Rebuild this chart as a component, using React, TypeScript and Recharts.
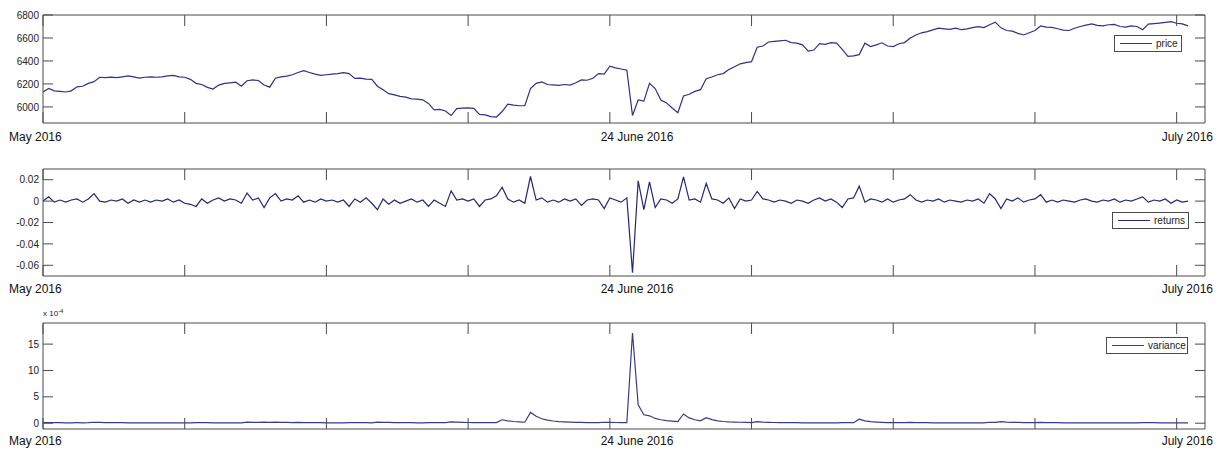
import React from 'react'
import { LineChart, Line, XAxis, YAxis, Legend } from 'recharts'

const FONT = "'Liberation Sans', Arial, sans-serif"
const AXIS = '#4a4a4a'

// x positions: one sample every 4 units, axis runs 0..820 with ticks every 100
const X_STEP = 4
const xTicks = [0, 100, 200, 300, 400, 500, 600, 700, 800]

const price = [
  6130, 6160, 6140, 6135, 6130, 6140, 6175, 6180, 6205, 6220,
  6258, 6255, 6260, 6255, 6262, 6270, 6262, 6250, 6258, 6262,
  6258, 6262, 6270, 6275, 6262, 6258, 6240, 6205, 6195, 6170,
  6155, 6190, 6205, 6210, 6215, 6180, 6228, 6235, 6230, 6190,
  6172, 6250, 6262, 6268, 6280, 6300, 6316, 6300, 6285, 6275,
  6280, 6285, 6290, 6298, 6290, 6248, 6250, 6242, 6240, 6180,
  6150, 6115, 6105, 6092, 6085, 6070, 6068, 6062, 6030, 5975,
  5978, 5965, 5925, 5985, 5990, 5992, 5988, 5935, 5930, 5915,
  5912, 5960, 6025, 6015, 6010, 6010, 6160, 6205, 6218, 6195,
  6192, 6188, 6195, 6190, 6210, 6235, 6232, 6250, 6290, 6285,
  6355, 6340, 6330, 6320, 5925, 6060, 6050, 6205, 6160, 6060,
  6035, 5990, 5950, 6095, 6110, 6135, 6150, 6245, 6260, 6280,
  6290, 6325, 6350, 6375, 6385, 6394, 6520, 6530, 6565, 6570,
  6575, 6580, 6560, 6555, 6540, 6485, 6495, 6550, 6545, 6560,
  6555, 6500, 6440, 6445, 6455, 6555, 6525, 6540, 6558, 6530,
  6525, 6550, 6560, 6600, 6626, 6645, 6655, 6670, 6685, 6680,
  6675, 6685, 6672, 6680, 6690, 6698, 6690, 6715, 6738, 6688,
  6665, 6660, 6640, 6626, 6645, 6665, 6705, 6695, 6692, 6680,
  6668, 6665, 6685, 6700, 6712, 6722, 6710, 6705, 6715, 6718,
  6700, 6695, 6705, 6700, 6672, 6720, 6725, 6730, 6735, 6742,
  6728, 6722, 6705,
]

const returns = [
  0.000, 0.004, -0.001, 0.001, -0.001, 0.001, 0.002, -0.001, 0.002, 0.007,
  0.000, -0.001, 0.001, 0.000, 0.002, -0.002, 0.001, -0.001, 0.001, -0.001,
  0.001, 0.000, 0.002, -0.001, 0.001, -0.002, -0.003, -0.005, 0.002, -0.002,
  0.001, 0.003, 0.000, 0.002, 0.001, -0.002, 0.0075, 0.001, 0.003, -0.006,
  0.003, 0.007, 0.000, 0.002, 0.001, 0.005, -0.001, 0.001, -0.001, 0.002,
  0.000, 0.001, -0.001, 0.001, -0.005, 0.002, -0.001, 0.003, -0.002, -0.008,
  0.002, -0.003, 0.001, -0.002, 0.000, 0.002, -0.001, 0.001, -0.005, 0.001,
  -0.002, -0.005, 0.0096, 0.001, 0.002, 0.000, 0.002, -0.005, 0.001, 0.002,
  0.005, 0.013, 0.002, -0.001, 0.001, -0.002, 0.023, 0.001, 0.003, -0.001,
  0.001, -0.001, 0.002, 0.000, 0.002, -0.004, 0.001, 0.002, 0.001, -0.007,
  0.003, 0.001, -0.001, 0.003, -0.067, 0.019, -0.008, 0.018, -0.006, 0.002,
  0.001, -0.002, 0.002, 0.0226, 0.001, 0.002, -0.001, 0.0165, 0.002, 0.001,
  -0.002, 0.003, -0.007, 0.002, 0.000, 0.001, 0.009, 0.002, 0.001, -0.001,
  0.001, 0.000, -0.002, 0.001, 0.000, -0.002, 0.001, 0.003, 0.000, 0.002,
  -0.001, -0.006, 0.002, 0.003, 0.014, -0.001, 0.002, 0.001, -0.001, 0.002,
  -0.001, 0.001, 0.002, 0.006, 0.001, -0.001, 0.001, 0.000, 0.002, -0.001,
  0.001, 0.000, -0.001, 0.001, 0.000, 0.002, -0.002, 0.007, 0.002, -0.007,
  0.002, 0.000, 0.003, -0.001, 0.001, 0.002, 0.006, -0.001, 0.001, -0.001,
  0.001, 0.000, -0.001, 0.001, 0.002, 0.000, -0.001, 0.001, 0.000, 0.002,
  -0.001, 0.001, 0.000, 0.002, 0.004, -0.001, 0.001, 0.000, 0.002, -0.002,
  0.001, -0.001, 0.000,
]

// variance in units of 1e-4 (axis shows "x 10^-4")
const varianceE4 = [
  0.10, 0.12, 0.10, 0.09, 0.08, 0.08, 0.09, 0.08, 0.10, 0.18,
  0.14, 0.12, 0.10, 0.09, 0.09, 0.08, 0.08, 0.08, 0.07, 0.07,
  0.07, 0.07, 0.07, 0.07, 0.07, 0.07, 0.08, 0.12, 0.10, 0.09,
  0.08, 0.08, 0.08, 0.08, 0.07, 0.07, 0.22, 0.16, 0.14, 0.20,
  0.16, 0.22, 0.17, 0.14, 0.12, 0.15, 0.12, 0.10, 0.09, 0.09,
  0.08, 0.08, 0.08, 0.08, 0.11, 0.10, 0.09, 0.09, 0.08, 0.20,
  0.16, 0.14, 0.12, 0.10, 0.09, 0.09, 0.08, 0.08, 0.12, 0.10,
  0.09, 0.12, 0.25, 0.20, 0.16, 0.13, 0.11, 0.13, 0.11, 0.10,
  0.12, 0.65, 0.45, 0.32, 0.24, 0.18, 2.05, 1.30, 0.85, 0.58,
  0.42, 0.31, 0.24, 0.19, 0.15, 0.14, 0.12, 0.10, 0.10, 0.18,
  0.15, 0.13, 0.11, 0.10, 17.1, 3.5, 1.6, 1.4, 0.9, 0.65,
  0.5, 0.4, 0.3, 1.75, 1.0, 0.65, 0.45, 1.05, 0.68, 0.45,
  0.32, 0.24, 0.22, 0.18, 0.15, 0.12, 0.30, 0.22, 0.17, 0.13,
  0.11, 0.10, 0.09, 0.09, 0.08, 0.08, 0.08, 0.08, 0.07, 0.07,
  0.07, 0.12, 0.10, 0.09, 0.75, 0.45, 0.30, 0.22, 0.16, 0.12,
  0.10, 0.09, 0.09, 0.15, 0.12, 0.10, 0.09, 0.08, 0.08, 0.07,
  0.07, 0.07, 0.07, 0.07, 0.07, 0.07, 0.07, 0.18, 0.14, 0.30,
  0.22, 0.17, 0.14, 0.11, 0.10, 0.09, 0.14, 0.11, 0.10, 0.09,
  0.08, 0.08, 0.07, 0.07, 0.07, 0.07, 0.07, 0.07, 0.07, 0.07,
  0.07, 0.07, 0.07, 0.07, 0.12, 0.10, 0.09, 0.08, 0.08, 0.07,
  0.07, 0.07, 0.07,
]

const priceTicks = [6000, 6200, 6400, 6600, 6800]
const returnTicks = [-0.06, -0.04, -0.02, 0, 0.02]
const varianceTicks = [0, 5, 10, 15]
const dateLabels = ['May 2016', '24 June 2016', 'July 2016']

const rows = price.map((p, i) => ({
  x: i * X_STEP,
  price: p,
  returns: returns[i],
  variance: varianceE4[i],
}))

const LeftTick = ({ x, y, payload }: any) => (
  <g>
    <line x1={x + 4} x2={x + 14} y1={y} y2={y} stroke={AXIS} />
    <text x={x} y={y} dy="0.36em" textAnchor="end" fontSize={10} fontFamily={FONT} fill="#222">
      {String(payload.value)}
    </text>
  </g>
)
const RightTick = ({ x, y }: any) => <line x1={x - 10} x2={x} y1={y} y2={y} stroke={AXIS} />
const TopTick = ({ x, y }: any) => <line x1={x} x2={x} y1={y} y2={y + 11} stroke={AXIS} />
const BottomTick = ({ x, y }: any) => <line x1={x} x2={x} y1={y - 11} y2={y} stroke={AXIS} />

type PanelProps = {
  top: number
  plotTop: number
  plotBottom: number
  dataKey: string
  name: string
  domain: [number, number]
  ticks: number[]
  color: string
  legend: { left: number; top: number; width: number; lineW: number }
  labelTop: number
}

function Panel(p: PanelProps) {
  const H = 150
  return (
    <div style={{ position: 'absolute', left: 0, top: p.top, width: 1225, height: H }}>
      <LineChart width={1225} height={H} data={rows} margin={{ top: 0, right: 0, bottom: 0, left: 0 }}>
        <XAxis xAxisId="b" dataKey="x" type="number" domain={[0, 820]} ticks={xTicks} interval={0}
          allowDataOverflow height={H - p.plotBottom} tickSize={0} tickMargin={0} tickLine={false}
          tick={BottomTick} axisLine={{ stroke: AXIS }} />
        <XAxis xAxisId="t" orientation="top" dataKey="x" type="number" domain={[0, 820]} ticks={xTicks}
          interval={0} allowDataOverflow height={p.plotTop} tickSize={0} tickMargin={0} tickLine={false}
          tick={TopTick} axisLine={{ stroke: AXIS }} />
        <YAxis yAxisId="l" type="number" domain={p.domain} ticks={p.ticks} interval={0} allowDataOverflow
          width={43} tickSize={0} tickMargin={4} tickLine={false} tick={LeftTick} axisLine={{ stroke: AXIS }} />
        <YAxis yAxisId="r" orientation="right" type="number" domain={p.domain} ticks={p.ticks} interval={0}
          allowDataOverflow width={20} tickSize={0} tickMargin={0} tickLine={false} tick={RightTick}
          axisLine={{ stroke: AXIS }} />
        <Legend
          layout="horizontal"
          align="center"
          verticalAlign="middle"
          wrapperStyle={{ left: p.legend.left, top: p.legend.top, width: p.legend.width, height: 17 }}
          content={() => (
            <div style={{
              width: p.legend.width, height: 17, boxSizing: 'border-box', border: `1px solid ${AXIS}`,
              background: '#fff', display: 'flex', alignItems: 'center', fontFamily: FONT, fontSize: 10, color: '#222',
            }}>
              <span style={{ display: 'inline-block', width: p.legend.lineW, borderTop: `1px solid ${p.color}`, marginLeft: 5, marginRight: 4 }} />
              <span>{p.name}</span>
            </div>
          )}
        />
        <Line xAxisId="b" yAxisId="l" type="linear" dataKey={p.dataKey} name={p.name} stroke={p.color}
          strokeWidth={1.2} dot={false} isAnimationActive={false} />
      </LineChart>
      <div style={{ position: 'absolute', left: 9, top: p.labelTop, fontFamily: FONT, fontSize: 12, lineHeight: '12px', color: '#111' }}>
        {dateLabels[0]}
      </div>
      <div style={{ position: 'absolute', left: 637, top: p.labelTop, transform: 'translateX(-50%)', whiteSpace: 'nowrap', fontFamily: FONT, fontSize: 12, lineHeight: '12px', color: '#111' }}>
        {dateLabels[1]}
      </div>
      <div style={{ position: 'absolute', right: 1225 - 1213, top: p.labelTop, whiteSpace: 'nowrap', fontFamily: FONT, fontSize: 12, lineHeight: '12px', color: '#111' }}>
        {dateLabels[2]}
      </div>
    </div>
  )
}

export default function App() {
  return (
    <div style={{ position: 'absolute', left: 0, top: 0, width: 1225, height: 450, background: '#fff', overflow: 'hidden' }}>
      <Panel top={0} plotTop={15} plotBottom={123} dataKey="price" name="price" domain={[5860, 6800]}
        ticks={priceTicks} color="#30308a" legend={{ left: 1114, top: 35, width: 68, lineW: 32 }} labelTop={131} />
      <Panel top={150} plotTop={19} plotBottom={126} dataKey="returns" name="returns" domain={[-0.07, 0.03]}
        ticks={returnTicks} color="#25257c" legend={{ left: 1112, top: 62, width: 77, lineW: 32 }} labelTop={133} />
      <Panel top={300} plotTop={23} plotBottom={129} dataKey="variance" name="variance" domain={[-1.1, 19]}
        ticks={varianceTicks} color="#3a3a88" legend={{ left: 1106, top: 37, width: 82, lineW: 32 }} labelTop={135} />
      <div style={{ position: 'absolute', left: 43, top: 310, fontFamily: FONT, fontSize: 8, lineHeight: '8px', color: '#222', whiteSpace: 'nowrap' }}>
        x 10<sup style={{ fontSize: 6, verticalAlign: 'top', position: 'relative', top: -3 }}>-4</sup>
      </div>
    </div>
  )
}
